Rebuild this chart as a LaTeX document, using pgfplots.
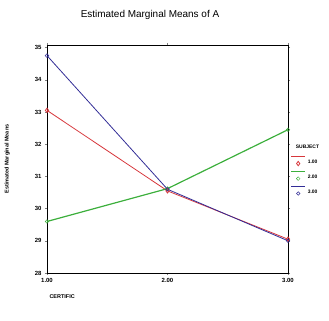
\documentclass[border=0pt]{standalone}
\usepackage{pgfplots}
\pgfplotsset{compat=1.18}
\usepackage{fontspec}
\setmainfont{Liberation Sans}
\definecolor{cred}{RGB}{215,55,60}
\definecolor{cgreen}{RGB}{60,175,60}
\definecolor{cblue}{RGB}{50,45,150}
\begin{document}
\begin{tikzpicture}[x=1bp,y=1bp]
\useasboundingbox (0,0) rectangle (329,321);
\node[font=\fontsize{10}{12}\selectfont] at (150,306) {Estimated Marginal Means of A};
\node[font=\fontsize{5.5}{6}\selectfont\bfseries, anchor=west] at (46,24) {CERTIFIC};
\begin{axis}[
  at={(47bp,48bp)}, anchor=south west,
  scale only axis, width=241bp, height=228bp,
  xmin=1, xmax=3, ymin=28, ymax=35.08,
  xtick={1,2,3}, xticklabels={1.00,2.00,3.00},
  ytick={28,29,30,31,32,33,34,35},
  tick label style={font=\fontsize{6}{7}\selectfont\bfseries},
  /pgf/number format/assume math mode=true,
  ylabel={Estimated Marginal Means},
  ylabel style={font=\fontsize{5.5}{6}\selectfont\bfseries, at={(axis description cs:-0.14,0.5)}},
  tick align=outside, major tick length=2bp,
  axis line style={black, line width=0.9pt},
  clip=false,
  legend style={at={(1.01,0.57)}, anchor=north west, draw=none, fill=none,
     font=\fontsize{5}{6}\selectfont\bfseries, row sep=4pt, inner sep=0pt},
  legend cell align=left,
  legend image code/.code={
    \draw[#1, mark=none] (0bp,6bp) -- (14bp,6bp);
    \draw[#1, only marks] plot coordinates {(7bp,-1bp)};
  },
]
\addlegendimage{empty legend}
\addlegendentry{\hspace{-12pt}SUBJECT}
\addplot[cred, line width=0.8pt, mark=diamond, mark size=2.2pt, mark options={solid}] coordinates {(1,33.05) (2,30.55) (3,29.05)};
\addlegendentry{1.00}
\addplot[cgreen, line width=1.2pt, mark=o, mark size=1.8pt, mark options={line width=0.5pt}] coordinates {(1,29.6) (2,30.62) (3,32.45)};
\addlegendentry{2.00}
\addplot[cblue, line width=0.8pt, mark=o, mark size=1.8pt, mark options={line width=0.5pt}] coordinates {(1,34.75) (2,30.6) (3,29.0)};
\addlegendentry{3.00}
\end{axis}
\end{tikzpicture}
\end{document}
